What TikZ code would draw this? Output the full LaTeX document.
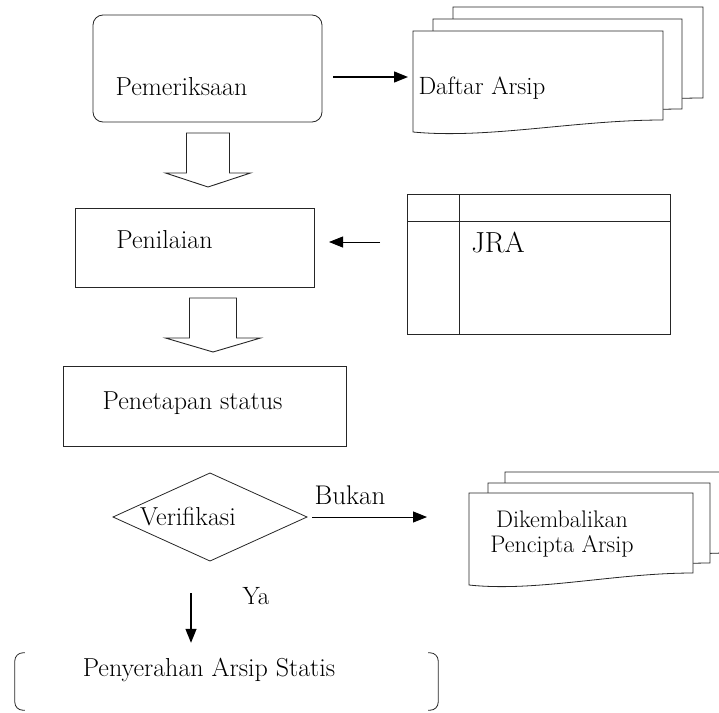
\documentclass[tikz,border=0pt]{standalone}
\usepackage{tikz}
\usetikzlibrary{calc}
\usetikzlibrary{arrows.meta}
\usetikzlibrary{shapes.geometric}
\usetikzlibrary{positioning}

\begin{document}
\begin{tikzpicture}[x=1pt,y=-1pt]
  % some styles
  \tikzset{
    kotak/.style={
      rectangle,
      inner sep=0mm,
      outer sep=0mm,
      line width=0.8pt,
      black!85,
      draw
    }
  }
  \tikzset{teks/.style={inner sep=0pt,font=\fontsize{26}{26}\selectfont}}
  \tikzset{alur/.style={line width=1.3pt,-{Triangle[length=14pt,width=11pt]}}}
  \tikzset{lembar/.style={line width=0.8pt,draw=black!85,fill=white}}
  \tikzset{panah/.style={line width=0.9pt,draw=black!85}}

\useasboundingbox (0,0) rectangle (719,712);

% boxes
\node[kotak,rounded corners=10pt,minimum width=229pt,minimum height=107pt] (pem) at (207.5,68.5) {};
\node[kotak,minimum width=239pt,minimum height=79pt] (nilai) at (194.5,247.5) {};
\node[kotak,minimum width=263pt,minimum height=140pt] (jra) at (538.5,264) {};
\node[kotak,minimum width=283pt,minimum height=80pt] (tetap) at (204.5,406) {};
\node[kotak,diamond,minimum width=194pt,minimum height=88pt] (verif) at (210,517) {};
\node[minimum width=423pt,minimum height=57pt,inner sep=0pt] (serahbox) at (226.5,681.5) {};

\draw[kotak] ([yshift=-27pt]jra.north west) -- ([yshift=-27pt]jra.north east);
\draw[kotak] ([xshift=52pt]jra.north west) -- ([xshift=52pt]jra.south west);

\draw[kotak,rounded corners=8pt] ([xshift=10pt]serahbox.north west) -- (serahbox.north west)
  -- (serahbox.south west) -- ([xshift=10pt]serahbox.south west);
\draw[kotak,rounded corners=8pt] ([xshift=-10pt]serahbox.north east) -- (serahbox.north east)
  -- (serahbox.south east) -- ([xshift=-10pt]serahbox.south east);

% stacked pages
\foreach \L/\T/\R/\B/\D in {453/7/703/98/12, 433/19/682/109/12, 413/31/663/120/12,
                             505/472/730/553/12, 488/483/710/563/12, 469/493/693/573/12} {
  \draw[lembar] (\L,\T) -- (\R,\T) -- (\R,\B)
    .. controls ({\R-0.35*(\R-\L)},\B) and ({\L+0.3*(\R-\L)},{\B+1.6*\D}) .. (\L,{\B+\D}) -- cycle;
}

% hollow arrows
\foreach \cx/\yt/\yb/\yp/\sw/\hw in {208/133/173/187/21.5/42.5, 213/298/338/352/23.5/47.5} {
  \draw[panah] ({\cx-\sw},\yt) -- ({\cx-\sw},\yb) -- ({\cx-\hw},\yb) -- (\cx,\yp)
    -- ({\cx+\hw},\yb) -- ({\cx+\sw},\yb) -- ({\cx+\sw},\yt) -- cycle;
}

% labels
\node[teks] (pemtext) at (181.5,87) {Pemeriksaan};
\node[teks,font=\fontsize{25}{25}\selectfont] (daftar) at (482,88) {Daftar Arsip};
\node[teks] (nilaitext) at (164.5,240) {Penilaian};
\node[teks,font=\fontsize{29}{29}\selectfont] (jratext) at (498,242) {JRA};
\node[teks] (tetaptext) at (192.5,403) {Penetapan status};
\node[teks] (veriftext) at (188,517) {Verifikasi};
\node[teks,font=\fontsize{27}{27}\selectfont] (bukan) at (350,495) {Bukan};
\node[teks,align=center,font=\fontsize{24}{25}\selectfont] (kembali) at (562,534) {Dikembalikan\\Pencipta Arsip};
\node[teks,font=\fontsize{25}{25}\selectfont] (ya) at (256,596) {Ya};
\node[teks] (serah) at (209,670) {Penyerahan Arsip Statis};

% arrows
\coordinate (daftarkiri) at (413,77);
\coordinate (jrakiri) at (380,242);
\coordinate (kembalikiri) at (469,517);
\coordinate (yaawal) at (191,593);

\draw[alur,shorten >=5pt] ([xshift=11pt]pem.east |- daftarkiri) -- (daftarkiri);
\draw[alur,line width=0.8pt,shorten >=15pt] (jrakiri) -- (jrakiri -| nilai.east);
\draw[alur,line width=1pt,shorten >=42pt] ([xshift=5pt]verif.east) -- (kembalikiri);
\draw[alur,shorten >=10pt] (yaawal) -- (yaawal |- serahbox.north);

\end{tikzpicture}
\end{document}
